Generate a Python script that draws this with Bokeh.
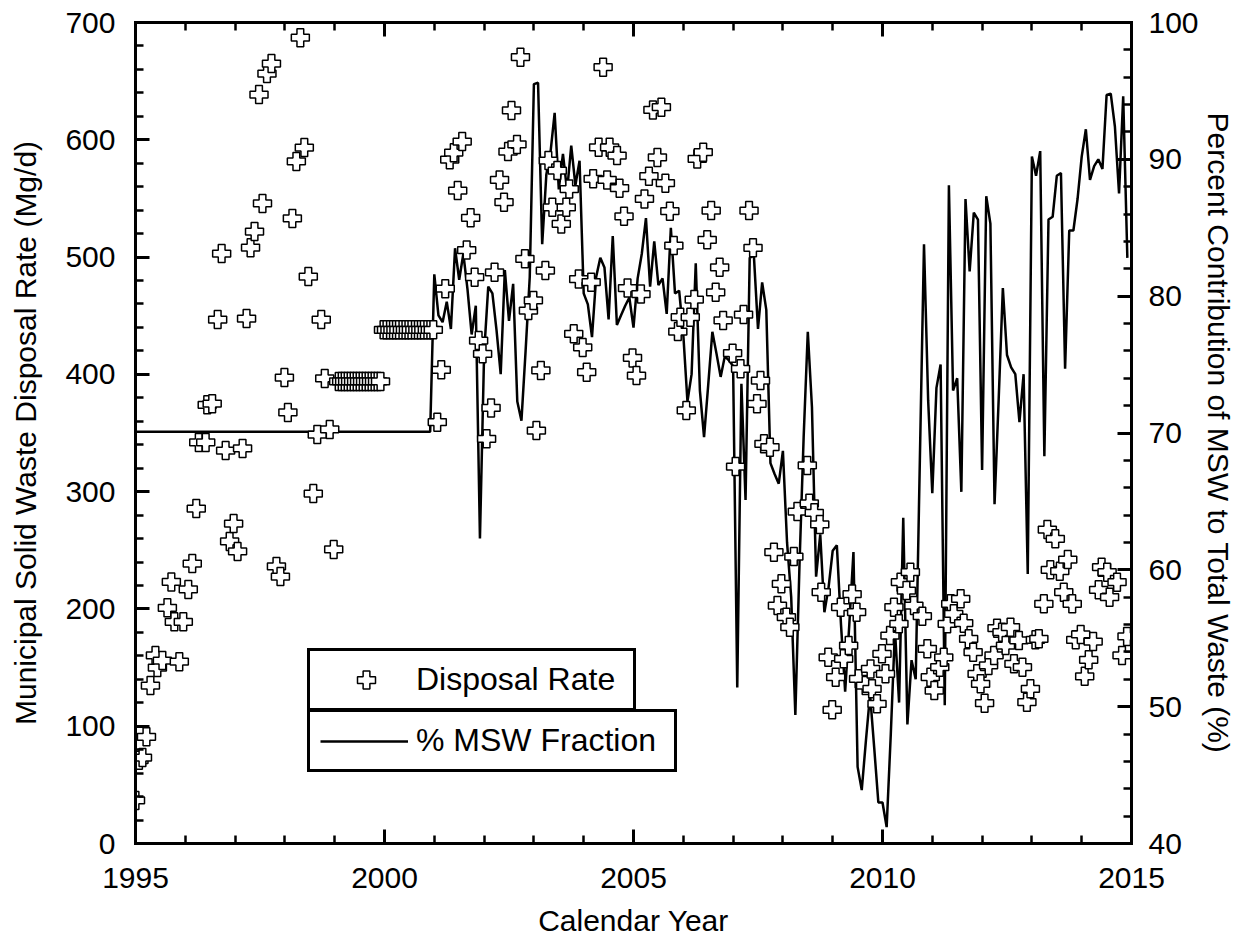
from bokeh.plotting import figure
from bokeh.models import Range1d, LinearAxis, Legend, LegendItem, FixedTicker, ColumnDataSource
from bokeh.embed import file_html
from bokeh.resources import INLINE

FONT = "Liberation Sans"

# ---------------- data ----------------
x_ticks = [1995, 2000, 2005, 2010, 2015]
x_minor = list(range(1995, 2016))
left_ticks = [0, 100, 200, 300, 400, 500, 600, 700]
left_minor = list(range(0, 701, 20))
right_ticks = [40, 50, 60, 70, 80, 90, 100]
right_minor = list(range(40, 101, 2))

# Disposal rate (Mg/d)
rate_year = [
    1995.00, 1995.07, 1995.14, 1995.22, 1995.30, 1995.40, 1995.44, 1995.54, 1995.64, 1995.72,
    1995.78, 1995.88, 1995.96, 1996.06, 1996.14, 1996.22, 1996.27, 1996.41, 1996.44, 1996.54,
    1996.65, 1996.73, 1996.81, 1996.89, 1996.97, 1997.05, 1997.15, 1997.23, 1997.31, 1997.39,
    1997.48, 1997.55, 1997.64, 1997.73, 1997.83, 1997.91, 1997.99, 1998.06, 1998.15, 1998.23,
    1998.31, 1998.39, 1998.47, 1998.57, 1998.65, 1998.73, 1998.80, 1998.90, 1998.98,
    1999.08, 1999.14, 1999.20, 1999.26, 1999.32, 1999.38, 1999.44, 1999.50, 1999.56, 1999.62,
    1999.68, 1999.74, 1999.80, 1999.86, 1999.92,
    1999.98, 2000.04, 2000.11, 2000.17, 2000.23, 2000.29, 2000.36, 2000.42, 2000.48, 2000.54,
    2000.61, 2000.67, 2000.73, 2000.79, 2000.86, 2000.92, 2000.98,
    2001.06, 2001.14, 2001.22, 2001.31, 2001.39, 2001.47, 2001.56, 2001.65, 2001.73, 2001.81,
    2001.89, 2001.97, 2002.05, 2002.14, 2002.21, 2002.31, 2002.40, 2002.48, 2002.55, 2002.66,
    2002.73, 2002.82, 2002.89, 2002.99, 2003.05, 2003.14, 2003.23, 2003.29, 2003.37, 2003.47,
    2003.55, 2003.65, 2003.71, 2003.80, 2003.90, 2003.98, 2004.06, 2004.15, 2004.19, 2004.30,
    2004.39, 2004.47, 2004.52, 2004.67, 2004.72, 2004.81, 2004.88, 2004.98, 2005.06, 2005.15,
    2005.22, 2005.31, 2005.39, 2005.48, 2005.56, 2005.64, 2005.73, 2005.81, 2005.89, 2005.94,
    2006.06, 2006.14, 2006.22, 2006.28, 2006.40, 2006.48, 2006.56, 2006.65, 2006.73, 2006.80,
    2006.99, 2007.05, 2007.15, 2007.21, 2007.32, 2007.40, 2007.48, 2007.55, 2007.62, 2007.74,
    2007.82, 2007.89, 2007.97, 2008.07, 2008.14, 2008.22, 2008.29, 2008.49, 2008.53, 2008.63,
    2008.74, 2008.77, 2008.91, 2008.99, 2009.06, 2009.16, 2009.22, 2009.32, 2009.39, 2009.48,
    2009.52, 2009.66, 2009.76, 2009.79, 2009.89, 2009.99, 2010.06, 2010.15, 2010.23, 2010.33,
    2010.36, 2010.48, 2010.56, 2010.63, 2010.80, 2010.90, 2010.96, 2011.04, 2011.15, 2011.23,
    2011.30, 2011.37, 2011.43, 2011.57, 2011.63, 2011.73, 2011.82, 2011.90, 2011.97, 2012.05,
    2012.13, 2012.24, 2012.30, 2012.40, 2012.47, 2012.57, 2012.64, 2012.74, 2012.81, 2012.90,
    2012.97, 2013.07, 2013.14, 2013.24, 2013.31, 2013.37, 2013.47, 2013.56, 2013.64, 2013.72,
    2013.81, 2013.88, 2013.98, 2014.06, 2014.14, 2014.23, 2014.34, 2014.40, 2014.51, 2014.56,
    2014.71, 2014.81, 2014.91,
]
rate_value = [
    36.7, 71.0, 73.3, 91.0, 134.7, 160.3, 150.0, 156.0, 201.0, 223.0,
    189.0, 155.0, 189.0, 216.6, 238.7, 285.6, 342.0, 342.0, 374.0, 375.0,
    446.7, 503.0, 335.0, 257.5, 272.8, 249.0, 336.8, 447.6, 508.0, 521.8,
    638.6, 545.7, 656.5, 665.0, 236.2, 227.6, 397.3, 367.5, 532.9, 581.5,
    687.0, 593.4, 483.4, 298.4, 348.7, 446.7, 396.5, 353.0, 250.7,
    394, 394, 394, 394, 394, 394, 394, 394, 394, 394,
    394, 394, 394, 394, 394,
    438, 438, 438, 438, 438, 438, 438, 438, 438, 438,
    438, 438, 438, 438, 438, 438, 438,
    359.2, 403.9, 473.0, 583.0, 589.0, 556.7, 598.5, 506.0, 533.5, 482.8,
    428.8, 417.5, 345.0, 371.4, 487.0, 565.8, 546.8, 590.0, 625.0, 596.0,
    670.4, 498.5, 454.4, 463.0, 352.1, 403.3, 488.5, 582.3, 542.4, 573.8,
    528.3, 542.4, 558.0, 434.6, 481.3, 423.0, 401.8, 478.6, 566.7, 593.6,
    661.9, 565.8, 593.6, 586.6, 558.7, 534.8, 473.6, 414.0, 399.0, 468.5,
    549.6, 569.0, 625.5, 585.0, 627.8, 563.0, 539.1, 509.8, 436.5, 448.7,
    369.2, 448.7, 463.8, 583.7, 589.4, 514.7, 539.7, 470.0, 491.3, 446.0,
    418.0, 321.4, 404.7, 451.0, 539.7, 507.9, 374.9, 394.7, 340.8, 337.9,
    248.4, 202.9, 221.4, 193.0, 184.4, 244.7, 283.0, 322.3, 290.0, 282.0,
    272.0, 214.3, 158.8, 114.0, 141.8, 201.5, 157.5, 168.8, 212.7, 197.2,
    140.4, 134.7, 148.8, 131.9, 119.1, 161.7, 144.7, 177.3, 201.5, 187.3,
    222.8, 215.7, 231.3, 202.9, 193.8, 166.0, 141.8, 130.4, 150.3, 158.8,
    187.3, 204.4, 195.8, 208.6, 187.8, 174.5, 163.1, 144.7, 136.2, 119.6,
    151.8, 160.3, 183.6, 180.2, 168.8, 184.4, 153.2, 173.1, 150.3, 120.5,
    131.9, 173.7, 174.5, 204.4, 267.7, 233.4, 259.8, 232.2, 214.3, 242.1,
    204.4, 173.7, 178.2, 142.6, 156.6, 172.2, 216.3, 235.6, 231.3, 210.0,
    222.8, 160.3, 176.5,
]

# % MSW fraction: flat segment 1995-2000, then monthly values Jan 2001 - Dec 2014
msw_flat_year = [1995.0, 2000.917]
msw_flat_pct = [70.1, 70.1]
msw_monthly_start = 2001
msw_monthly_pct = [
    81.6, 78.6, 78.1, 79.6, 77.6, 83.5, 81.2, 83.1, 80.5, 77.2, 79.3, 62.3,   # 2001
    75.8, 80.7, 80.2, 77.5, 74.3, 81.9, 78.2, 80.9, 72.3, 70.9, 76.0, 81.4,   # 2002
    95.5, 95.6, 83.8, 88.9, 90.5, 93.4, 87.8, 90.4, 87.7, 91.0, 88.1, 89.9,   # 2003
    80.2, 79.4, 77.0, 81.4, 82.8, 82.1, 78.3, 84.4, 77.9, 78.6, 79.3, 79.9,   # 2004
    77.7, 81.3, 83.1, 85.7, 80.7, 84.0, 80.8, 81.3, 78.7, 85.0, 80.2, 80.4,   # 2005
    77.2, 72.3, 74.3, 82.4, 73.1, 69.7, 73.5, 77.4, 75.8, 74.1, 75.6, 75.3,   # 2006
    74.9, 51.4, 73.6, 65.1, 82.8, 83.0, 77.6, 81.0, 79.0, 67.8, 67.0, 66.3,   # 2007
    68.7, 62.0, 58.0, 49.4, 60.4, 69.7, 77.4, 71.9, 59.5, 62.6, 56.9, 58.7,   # 2008
    61.4, 61.8, 56.0, 51.1, 56.0, 61.3, 45.6, 43.9, 47.5, 50.9, 47.0, 43.0,   # 2009
    43.0, 41.2, 48.0, 55.6, 50.3, 63.8, 48.7, 53.4, 52.0, 68.0, 83.8, 72.4,   # 2010
    65.6, 73.3, 75.0, 50.1, 88.1, 73.1, 74.0, 65.7, 87.1, 81.8, 86.1, 85.6,   # 2011
    67.3, 87.3, 85.3, 64.8, 72.5, 80.6, 75.7, 74.8, 74.3, 70.8, 74.3, 59.7,   # 2012
    90.2, 88.8, 90.6, 68.3, 85.6, 85.8, 88.8, 89.0, 74.7, 84.8, 84.8, 87.1,   # 2013
    90.2, 92.2, 88.5, 89.5, 90.0, 89.3, 94.7, 94.8, 92.4, 87.5, 94.6, 82.8,   # 2014
]
msw_year = msw_flat_year + [msw_monthly_start + i / 12 for i in range(len(msw_monthly_pct))]
msw_pct = msw_flat_pct + msw_monthly_pct

# ---------------- figure ----------------
p = figure(width=1243, height=940,
           x_range=Range1d(1995, 2015), y_range=Range1d(0, 700),
           output_backend="svg", toolbar_location=None,
           min_border_left=135, min_border_right=112,
           min_border_top=22, min_border_bottom=97,
           background_fill_color="white", border_fill_color="white",
           outline_line_color=None)
p.grid.visible = False
p.extra_y_ranges = {"pct": Range1d(40, 100)}


def style(ax):
    ax.axis_line_width = 3
    ax.axis_line_color = "black"
    ax.axis_line_cap = "square"
    ax.major_tick_in = 14
    ax.major_tick_out = 0
    ax.minor_tick_in = 8
    ax.minor_tick_out = 0
    ax.major_tick_line_width = 3
    ax.minor_tick_line_width = 2.5
    ax.major_tick_line_color = "black"
    ax.minor_tick_line_color = "black"
    ax.major_label_text_font = FONT
    ax.major_label_text_font_size = "30px"
    ax.major_label_text_color = "black"
    ax.axis_label_text_font = FONT
    ax.axis_label_text_font_size = "30px"
    ax.axis_label_text_font_style = "normal"
    ax.axis_label_text_color = "black"


xa = p.xaxis[0]
style(xa)
xa.ticker = FixedTicker(ticks=x_ticks, minor_ticks=x_minor)
xa.axis_label = "Calendar Year"
xa.major_label_standoff = 24
xa.axis_label_standoff = 13

ya = p.yaxis[0]
style(ya)
ya.ticker = FixedTicker(ticks=left_ticks, minor_ticks=left_minor)
ya.axis_label = "Municipal Solid Waste Disposal Rate (Mg/d)"
ya.major_label_standoff = 20
ya.axis_label_standoff = 20

ra = LinearAxis(y_range_name="pct")
style(ra)
ra.ticker = FixedTicker(ticks=right_ticks, minor_ticks=right_minor)
ra.axis_label = "Percent Contribution of MSW to Total Waste (%)"
ra.major_label_standoff = 17
ra.axis_label_standoff = 0
p.add_layout(ra, "right")

ta = LinearAxis()
style(ta)
ta.ticker = FixedTicker(ticks=x_ticks, minor_ticks=x_minor)
ta.major_label_text_color = None
ta.major_label_text_font_size = "0px"
ta.major_label_standoff = 0
p.add_layout(ta, "above")

line_r = p.line(msw_year, msw_pct, y_range_name="pct", line_color="black", line_width=2.5)
src = ColumnDataSource(dict(x=rate_year, y=rate_value))
sc_r = p.scatter("x", "y", source=src, marker="plus", size=18,
                 fill_color="white", line_color="black", line_width=1.5)


def make_legend(item, loc, glyph_w, glyph_h, pad, label_w, standoff):
    return Legend(items=[item], location=loc, orientation="vertical",
                  border_line_color="black", border_line_width=3, border_line_alpha=1.0,
                  background_fill_color="white", background_fill_alpha=1.0,
                  label_text_font=FONT, label_text_font_size="32px",
                  label_text_color="black",
                  glyph_width=glyph_w, glyph_height=glyph_h, label_height=24,
                  label_width=label_w, label_standoff=standoff, padding=pad,
                  spacing=0, margin=0)


leg1 = make_legend(LegendItem(label="Disposal Rate", renderers=[sc_r]), (172, 132), 100, 45, 6, 211, 0)
leg2 = make_legend(LegendItem(label="% MSW Fraction", renderers=[line_r]), (172, 71), 88, 24, 10, 248, 8)
p.add_layout(leg1)
p.add_layout(leg2)

open("out.html", "w").write(file_html(p, INLINE))
